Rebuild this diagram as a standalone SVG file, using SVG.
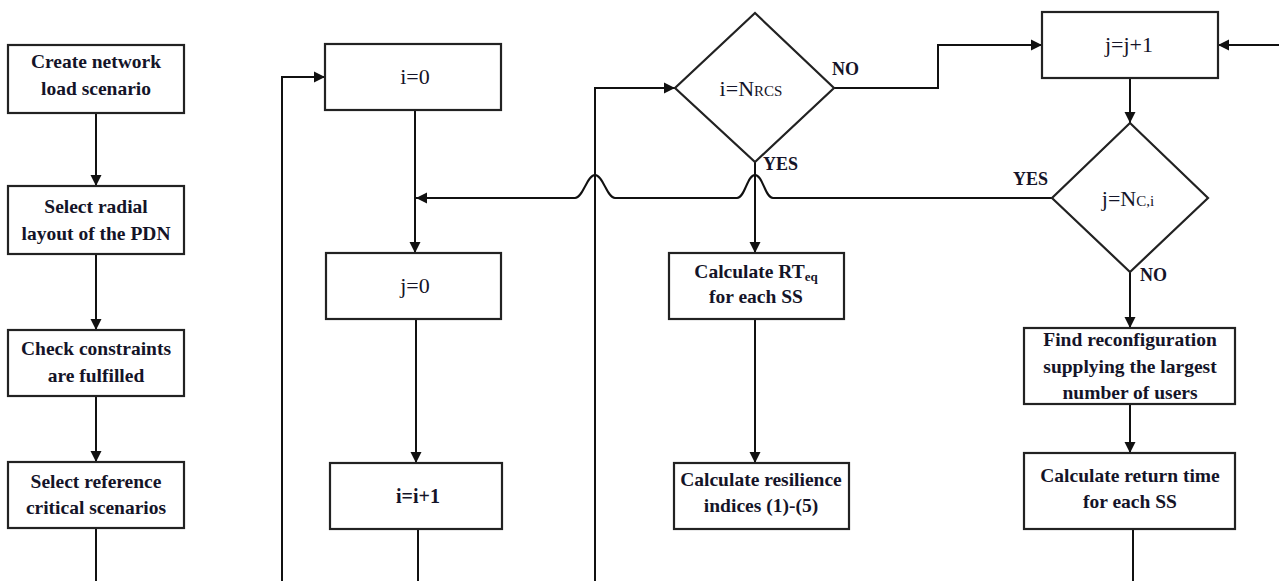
<svg xmlns="http://www.w3.org/2000/svg" width="1279" height="581" viewBox="0 0 1279 581">
<style>
.box{fill:#fff;stroke:#222;stroke-width:2.2}
.t{font-family:"Liberation Serif","Times New Roman",serif;font-weight:bold;font-size:19.5px;fill:#141428;text-anchor:middle}
.r{font-family:"Liberation Serif","Times New Roman",serif;font-weight:normal;font-size:22px;fill:#141428;text-anchor:middle}
.lbl{font-family:"Liberation Serif","Times New Roman",serif;font-weight:bold;font-size:18px;fill:#141428}
.sub{font-size:13px}
.sc{font-size:15px}
.c{fill:none;stroke:#111;stroke-width:2}
</style>
<defs>
<marker id="ah" markerUnits="userSpaceOnUse" markerWidth="12" markerHeight="12" refX="11" refY="6" orient="auto">
<path d="M0,0.5 L11,6 L0,11.5 z" fill="#111"/>
</marker>
</defs>
<g id="connectors">
<path class="c" d="M96,113 V186" marker-end="url(#ah)"/>
<path class="c" d="M96,254 V330" marker-end="url(#ah)"/>
<path class="c" d="M96,396 V462" marker-end="url(#ah)"/>
<path class="c" d="M96,528 V581"/>
<path class="c" d="M282,581 V77 H325" marker-end="url(#ah)"/>
<path class="c" d="M415,110 V253" marker-end="url(#ah)"/>
<path class="c" d="M416,319 V463" marker-end="url(#ah)"/>
<path class="c" d="M418,529 V581"/>
<path class="c" d="M595,581 V88 H675" marker-end="url(#ah)"/>
<path class="c" d="M755,162 V253" marker-end="url(#ah)"/>
<path class="c" d="M755,319 V463" marker-end="url(#ah)"/>
<path class="c" d="M834,88 H938 V45 H1042" marker-end="url(#ah)"/>
<path class="c" d="M1279,45 H1218" marker-end="url(#ah)"/>
<path class="c" d="M1130,78 V123" marker-end="url(#ah)"/>
<path class="c" d="M1130,272 V328" marker-end="url(#ah)"/>
<path class="c" d="M1130,404 V453" marker-end="url(#ah)"/>
<path class="c" d="M1133,529 V581"/>
<path class="c" d="M1052,198 H773 C765,198 763,175 755,175 C747,175 745,198 737,198 H615 C607,198 603,175 595,175 C587,175 583,198 575,198 H416" marker-end="url(#ah)"/>
</g>
<g id="create-scenario">
<rect class="box" x="8" y="45" width="176" height="68"/>
<text class="t" x="96" y="68">Create network</text>
<text class="t" x="96" y="95">load scenario</text>
</g>
<g id="select-radial">
<rect class="box" x="8" y="186" width="176" height="68"/>
<text class="t" x="96" y="213">Select radial</text>
<text class="t" x="96" y="240">layout of the PDN</text>
</g>
<g id="check-constraints">
<rect class="box" x="8" y="330" width="176" height="66"/>
<text class="t" x="96" y="355">Check constraints</text>
<text class="t" x="96" y="382">are fulfilled</text>
</g>
<g id="select-reference">
<rect class="box" x="8" y="462" width="176" height="66"/>
<text class="t" x="96" y="488">Select reference</text>
<text class="t" x="96" y="514">critical scenarios</text>
</g>
<g id="i0">
<rect class="box" x="325" y="44" width="176" height="66"/>
<text class="r" x="415" y="84">i=0</text>
</g>
<g id="j0">
<rect class="box" x="326" y="253" width="175" height="66"/>
<text class="r" x="415" y="293">j=0</text>
</g>
<g id="iinc">
<rect class="box" x="330" y="463" width="172" height="66"/>
<text class="t" x="418" y="503" style="font-size:20px">i=i+1</text>
</g>
<g id="dec-i">
<polygon class="box" points="755,13 834,88 755,162 675,88"/>
<text class="r" x="751" y="96">i=N<tspan class="sc">RCS</tspan></text>
<text class="lbl" x="763" y="170">YES</text>
<text class="lbl" x="832" y="75">NO</text>
</g>
<g id="calc-rteq">
<rect class="box" x="669" y="253" width="175" height="66"/>
<text class="t" x="756" y="278">Calculate RT<tspan class="sub" dy="3">eq</tspan></text>
<text class="t" x="756" y="303">for each SS</text>
</g>
<g id="calc-resilience">
<rect class="box" x="674" y="463" width="175" height="66"/>
<text class="t" x="761" y="486">Calculate resilience</text>
<text class="t" x="761" y="512">indices (1)-(5)</text>
</g>
<g id="jinc">
<rect class="box" x="1042" y="12" width="176" height="66"/>
<text class="r" x="1129" y="52">j=j+1</text>
</g>
<g id="dec-j">
<polygon class="box" points="1130,123 1208,198 1130,272 1052,198"/>
<text class="r" x="1128" y="206">j=N<tspan class="sc">C,i</tspan></text>
<text class="lbl" x="1013" y="185">YES</text>
<text class="lbl" x="1140" y="281">NO</text>
</g>
<g id="find-reconf">
<rect class="box" x="1024" y="328" width="211" height="76"/>
<text class="t" x="1130" y="346">Find reconfiguration</text>
<text class="t" x="1130" y="373">supplying the largest</text>
<text class="t" x="1130" y="399">number of users</text>
</g>
<g id="calc-return">
<rect class="box" x="1024" y="453" width="211" height="76"/>
<text class="t" x="1130" y="482">Calculate return time</text>
<text class="t" x="1130" y="508">for each SS</text>
</g>
</svg>
